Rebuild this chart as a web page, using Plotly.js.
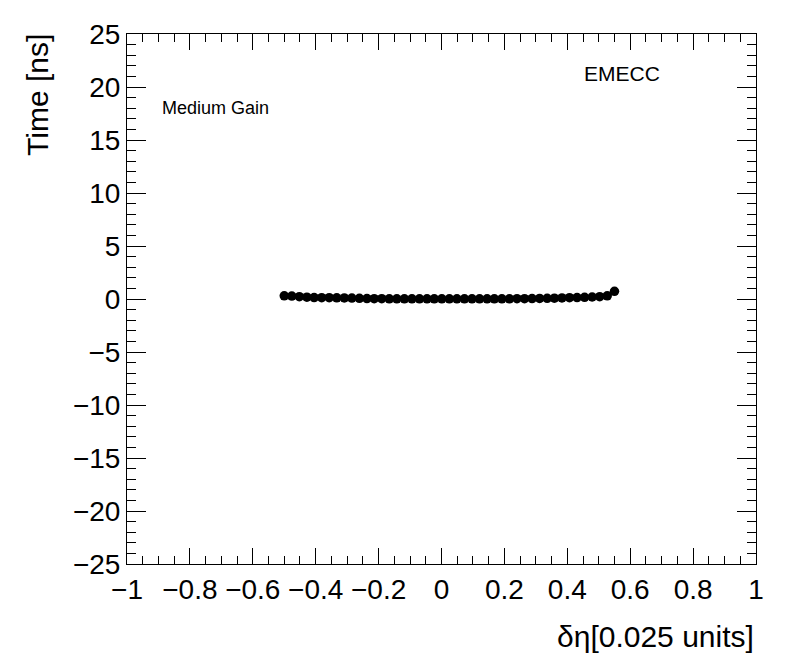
<!DOCTYPE html>
<html>
<head>
<meta charset="utf-8">
<script src="https://cdn.plot.ly/plotly-3.0.1.min.js"></script>
<style>html,body{margin:0;padding:0;background:#fff;}#chart{width:796px;height:672px;}</style>
</head>
<body>
<div id="chart"></div>
<script>
const etaBins = [-0.500, -0.476, -0.452, -0.428, -0.405, -0.381, -0.357, -0.333, -0.309, -0.285,
  -0.261, -0.237, -0.214, -0.190, -0.166, -0.142, -0.118, -0.094, -0.070, -0.046,
  -0.023, 0.001, 0.025, 0.049, 0.073, 0.097, 0.121, 0.145, 0.168, 0.192,
  0.216, 0.240, 0.264, 0.288, 0.312, 0.336, 0.359, 0.383, 0.407, 0.431,
  0.455, 0.479, 0.503, 0.527, 0.550];
const timeValues = [0.30, 0.28, 0.22, 0.17, 0.13, 0.12, 0.12, 0.11, 0.10, 0.09,
  0.06, 0.04, 0.03, 0.03, 0.02, 0.02, 0.02, 0.02, 0.02, 0.02,
  0.02, 0.02, 0.02, 0.02, 0.02, 0.02, 0.02, 0.02, 0.02, 0.02,
  0.02, 0.03, 0.03, 0.04, 0.05, 0.06, 0.08, 0.10, 0.12, 0.14,
  0.16, 0.19, 0.22, 0.30, 0.72];
const xTickVals = [-1, -0.8, -0.6, -0.4, -0.2, 0, 0.2, 0.4, 0.6, 0.8, 1];
const xTickText = ['\u22121', '\u22120.8', '\u22120.6', '\u22120.4', '\u22120.2', '0', '0.2', '0.4', '0.6', '0.8', '1'];
const yTickVals = [-25, -20, -15, -10, -5, 0, 5, 10, 15, 20, 25];
const yTickText = ['\u221225', '\u221220', '\u221215', '\u221210', '\u22125', '0', '5', '10', '15', '20', '25'];

const font = 'Liberation Sans, Arial, Helvetica, sans-serif';

const trace = {
  x: etaBins, y: timeValues, type: 'scatter', mode: 'markers',
  marker: {color: '#000', size: 9.5, symbol: 'circle'},
  hoverinfo: 'x+y'
};

const layout = {
  width: 796, height: 672,
  margin: {l: 127, r: 40, t: 34, b: 108},
  paper_bgcolor: '#fff', plot_bgcolor: '#fff',
  showlegend: false,
  xaxis: {
    range: [-1, 1], showgrid: false, zeroline: false,
    showline: true, linecolor: '#000', linewidth: 1, mirror: 'allticks',
    ticks: 'inside', ticklen: 16, tickcolor: '#000', tickwidth: 1,
    tickvals: xTickVals, ticktext: xTickText,
    tickfont: {family: font, size: 28, color: '#000'},
    minor: {dtick: 0.05, ticks: 'inside', ticklen: 8, tickcolor: '#000', tickwidth: 1, showgrid: false}
  },
  yaxis: {
    range: [-25, 25], showgrid: false, zeroline: false,
    showline: true, linecolor: '#000', linewidth: 1, mirror: 'allticks',
    ticks: 'inside', ticklen: 19, tickcolor: '#000', tickwidth: 1,
    tickvals: yTickVals, ticktext: yTickText,
    tickfont: {family: font, size: 28, color: '#000'},
    minor: {dtick: 1, ticks: 'inside', ticklen: 9, tickcolor: '#000', tickwidth: 1, showgrid: false}
  },
  annotations: [
    {text: '\u03b4\u03b7[0.025 units]', xref: 'paper', yref: 'paper', x: 1, y: -0.136,
     xanchor: 'right', yanchor: 'middle', showarrow: false,
     font: {family: font, size: 30, color: '#000'}},
    {text: 'Time [ns]', xref: 'paper', yref: 'paper', x: -0.1415, y: 1.004,
     xanchor: 'center', yanchor: 'top', textangle: -90, showarrow: false,
     font: {family: font, size: 30, color: '#000'}},
    {text: 'Medium Gain', xref: 'paper', yref: 'paper', x: 0.052, y: 0.860,
     xanchor: 'left', yanchor: 'middle', showarrow: false,
     font: {family: font, size: 18, color: '#000'}},
    {text: 'EMECC', xref: 'paper', yref: 'paper', x: 0.723, y: 0.926,
     xanchor: 'left', yanchor: 'middle', showarrow: false,
     font: {family: font, size: 21, color: '#000'}}
  ]
};

Plotly.newPlot('chart', [trace], layout, {displayModeBar: false, staticPlot: true});
</script>
</body>
</html>
